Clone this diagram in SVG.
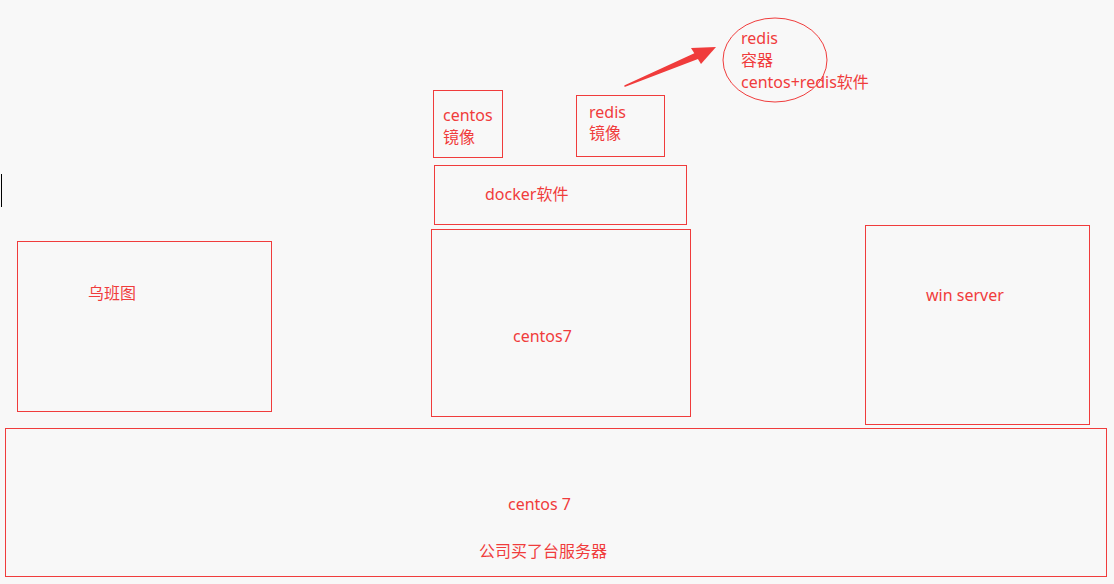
<svg xmlns="http://www.w3.org/2000/svg" width="1114" height="584" viewBox="0 0 1114 584">
<style>
.b{fill:none;stroke:#f03c3c;stroke-width:1}
.t{fill:#f03c3c;font-family:"Noto Sans","Noto Sans CJK SC",sans-serif;font-size:16px}
</style>
<rect width="1114" height="584" fill="#f8f8f8"/>
<line x1="1.5" y1="174" x2="1.5" y2="207" stroke="#000" stroke-width="1"/>
<g id="server">
<rect class="b" x="5.5" y="428.5" width="1101" height="148"/>
<text class="t" x="508" y="510">centos 7</text>
<text class="t" x="479" y="557">公司买了台服务器</text>
</g>
<g id="ubuntu">
<rect class="b" x="17.5" y="241.5" width="254" height="170"/>
<text class="t" x="88" y="299">乌班图</text>
</g>
<g id="centos7">
<rect class="b" x="431.5" y="229.5" width="259" height="187"/>
<text class="t" x="513" y="342">centos7</text>
</g>
<g id="winserver">
<rect class="b" x="865.5" y="225.5" width="224" height="199"/>
<text class="t" x="926" y="301">win server</text>
</g>
<g id="docker">
<rect class="b" x="434.5" y="165.5" width="252" height="59"/>
<text class="t" x="485" y="200">docker软件</text>
</g>
<g id="centos-image">
<rect class="b" x="433.5" y="90.5" width="69" height="67"/>
<text class="t" x="443" y="121">centos</text>
<text class="t" x="443" y="143">镜像</text>
</g>
<g id="redis-image">
<rect class="b" x="576.5" y="95.5" width="88" height="61"/>
<text class="t" x="589" y="118">redis</text>
<text class="t" x="589" y="139">镜像</text>
</g>
<g id="redis-container">
<ellipse class="b" cx="775" cy="60" rx="52" ry="42"/>
<text class="t" x="741" y="44">redis</text>
<text class="t" x="741" y="66">容器</text>
<text class="t" x="741" y="88">centos+redis软件</text>
</g>
<g id="connectors">
<path d="M625,86 L699,52 L701,57 Z" fill="#f03c3c" stroke="#f03c3c" stroke-width="1.5" stroke-linejoin="round"/>
<path d="M716,47 L691,48 L701,64 Z" fill="#f03c3c"/>
</g>
</svg>
